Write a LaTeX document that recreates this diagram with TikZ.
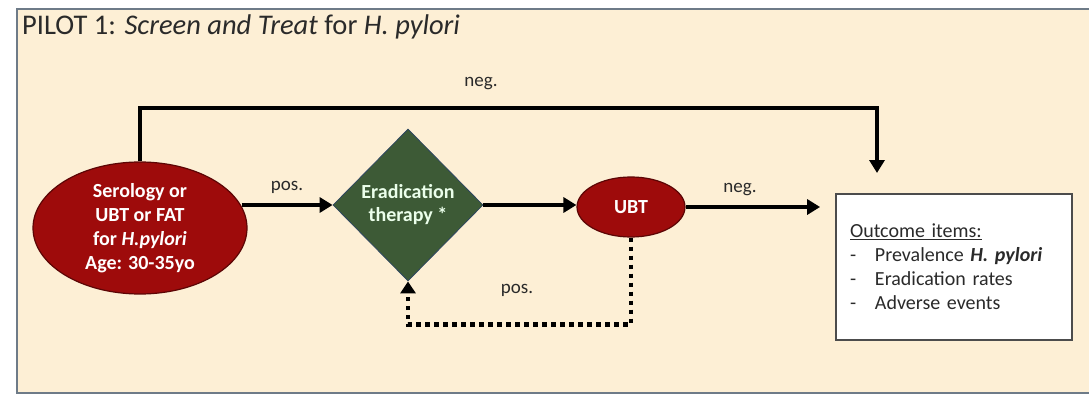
\documentclass[tikz,border=0pt]{standalone}
\usepackage{fontspec}
\setmainfont{Carlito}
\usetikzlibrary{shapes.geometric,arrows.meta,calc}
\definecolor{bgc}{HTML}{FDEFD5}
\definecolor{framec}{HTML}{6E7B88}
\definecolor{redf}{HTML}{9E0B0B}
\definecolor{redd}{HTML}{5C0505}
\definecolor{greenf}{HTML}{3D5A36}
\definecolor{greend}{HTML}{2E4660}
\definecolor{txt}{HTML}{2A2A2A}
\begin{document}
\begin{tikzpicture}[x=1pt,y=-1pt,
  redell/.style={ellipse,draw=redd,line width=1.2pt,fill=redf,inner sep=0pt,text=white,align=center,
    font=\fontsize{20}{24}\selectfont\bfseries},
  dia/.style={diamond,draw=greend,line width=0.8pt,fill=greenf,inner sep=0pt,text=white!92!green,align=center,
    font=\fontsize{20}{23}\selectfont\bfseries},
  outbox/.style={draw=black!70,line width=1.8pt,fill=white,inner xsep=14pt,inner ysep=0pt,align=left,
    text=txt,font=\fontsize{20}{24}\selectfont,text width=208pt,minimum height=146pt},
  lbl/.style={text=txt,font=\fontsize{19}{22}\selectfont,inner sep=0pt},
  arr/.style={line width=3.6pt,-{Triangle[length=13pt,width=15pt]}},
  dotarr/.style={line width=4.5pt,dash pattern=on 4.5pt off 4.5pt,-{Triangle[length=12pt,width=15pt]}}]
\useasboundingbox (0,0) rectangle (1089,396);
\fill[bgc] (17,9) rectangle (1089,393);
\draw[framec,line width=2pt] (1095,9) -- (17,9) -- (17,393) -- (1095,393);
\node[anchor=base west,text=txt,font=\fontsize{28.5}{31}\selectfont,inner sep=0pt] (title) at (22,35)
  {PILOT 1: \textit{Screen and Treat} for \textit{H. pylori}};
\node[redell,minimum width=214pt,minimum height=132pt] (ser) at (140,228)
  {Serology or\\UBT or FAT\\for \textit{H.pylori}\\Age: 30-35yo};
\node[dia,minimum width=150pt,minimum height=152pt] (era) at (408,205) {Eradication\\therapy *};
\node[redell,minimum width=108pt,minimum height=60pt] (ubt) at (631,207) {UBT};
\node[outbox] (out) at (954,267)
  {\underline{Outcome items:}\\
   \makebox[25pt][l]{-}Prevalence \textbf{\textit{H. pylori}}\\
   \makebox[25pt][l]{-}Eradication rates\\
   \makebox[25pt][l]{-}Adverse events};
\coordinate (negtop) at (877,108);
\coordinate (negend) at (877,173);
\draw[arr] (ser.north) |- (negtop) -- (negend);
\node[lbl] (negA) at (481,84) {neg.};
\draw[arr] ([xshift=-6pt]ser.east |- era.west) -- (era.west);
\node[lbl] (posA) at (287,187) {pos.};
\draw[arr] (era.east) -- (era.east -| ubt.west);
\draw[arr,shorten >=15pt] (ubt.east) -- (ubt.east -| out.west);
\node[lbl] (negB) at (740,190) {neg.};
\draw[dotarr] (ubt.south) |- ($(era.south)+(0,43)$) -- (era.south);
\node[lbl] (posB) at (517,290) {pos.};
\end{tikzpicture}
\end{document}
